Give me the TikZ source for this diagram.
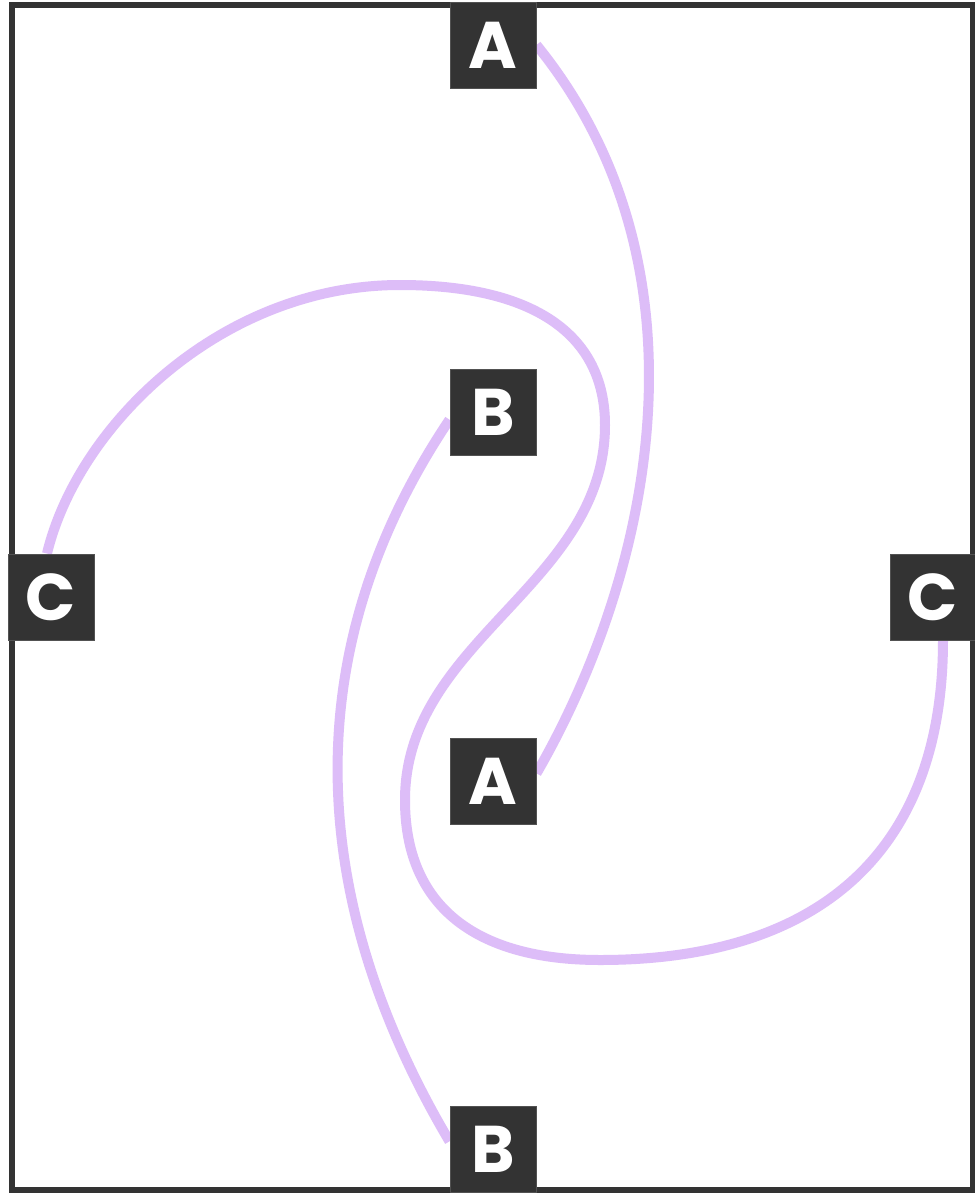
\documentclass[tikz,border=0pt]{standalone}
\usepackage{fontspec}
\usetikzlibrary{backgrounds}
\newfontfamily\lblfont{Poppins}
\definecolor{ink}{HTML}{333333}
\definecolor{lav}{HTML}{DDBDF8}
\begin{document}
\begin{tikzpicture}[x=1pt,y=-1pt,
  lbox/.style={fill=ink, draw=ink!85!white, line width=1pt, minimum width=86pt, minimum height=86pt, inner sep=0pt, text=white, font=\lblfont\bfseries\fontsize{66}{66}\selectfont},
  wire/.style={draw=lav, line width=10pt}]
\useasboundingbox (0,0) rectangle (975,1195);
% nodes
\node[lbox] (a1) at (493,45) {A};
\node[lbox] (b1) at (493,412) {B};
\node[lbox] (a2) at (493,781) {A};
\node[lbox] (b2) at (493,1149) {B};
\node[lbox] (c1) at (51,597) {C};
\node[lbox] (c2) at (933,597) {C};
\begin{pgfonlayer}{background}
\fill[white] (0,0) rectangle (975,1195);
\draw[ink, line width=6pt] (12,5) rectangle (973,1190);
\draw[wire] (a1.east) .. controls (719,270) and (650,577) .. (a2.10);
\draw[wire] (b1.190) .. controls (289,659) and (312,909) .. (b2.170);
\draw[wire] ([xshift=-4pt]c1.north) .. controls (78,425) and (222,285) .. (400,285)
  .. controls (533,285) and (605,334) .. (605,425)
  .. controls (605,585) and (405,640) .. (405,800)
  .. controls (405,904) and (473,960) .. (600,960)
  .. controls (823,960) and (943,848) .. ([xshift=10pt]c2.south);
\end{pgfonlayer}
\end{tikzpicture}
\end{document}
